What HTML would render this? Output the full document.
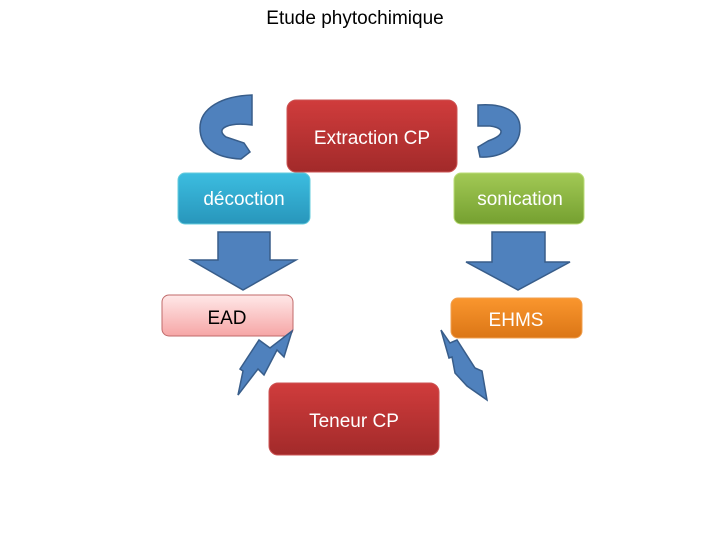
<!DOCTYPE html>
<html><head><meta charset="utf-8"><style>
body{margin:0;background:#fff;width:720px;height:540px;overflow:hidden}
svg text{font-family:"Liberation Sans",sans-serif}
</style></head><body>
<svg width="720" height="540" viewBox="0 0 720 540" xmlns="http://www.w3.org/2000/svg">
<defs>
<linearGradient id="red" x1="0" y1="0" x2="0" y2="1"><stop offset="0" stop-color="#d03c3c"/><stop offset="1" stop-color="#a22a2a"/></linearGradient>
<linearGradient id="cyan" x1="0" y1="0" x2="0" y2="1"><stop offset="0" stop-color="#3cbde0"/><stop offset="1" stop-color="#2896bb"/></linearGradient>
<linearGradient id="green" x1="0" y1="0" x2="0" y2="1"><stop offset="0" stop-color="#a2c955"/><stop offset="1" stop-color="#75a030"/></linearGradient>
<linearGradient id="pink" x1="0" y1="0" x2="0" y2="1"><stop offset="0" stop-color="#ffe8e8"/><stop offset="1" stop-color="#f6a6a6"/></linearGradient>
<linearGradient id="orange" x1="0" y1="0" x2="0" y2="1"><stop offset="0" stop-color="#fa962e"/><stop offset="1" stop-color="#db7616"/></linearGradient>
</defs>
<text x="355" y="24" font-size="19" text-anchor="middle" fill="#000">Etude phytochimique</text>

<!-- curved arrows -->
<path d="M252,95 L252,125 C230,122 214,128 226,137 L244,143 L250,152 L241,159 C215,158 200,147 200,128 C200,108 222,96 252,95 Z" fill="#4f81bd" stroke="#385d8a" stroke-width="1.5"/>
<path d="M478,105 C505,103 520,112 520,128 C520,148 500,158 480,157 L478,147 L488,141 C505,135 505,128 490,126 L478,126 Z" fill="#4f81bd" stroke="#385d8a" stroke-width="1.5"/>

<!-- boxes -->
<rect x="287" y="100" width="170" height="72" rx="9" fill="url(#red)" stroke="#c55" stroke-width="1"/>
<text x="372" y="144" font-size="19" text-anchor="middle" fill="#fff">Extraction CP</text>
<rect x="178" y="173" width="132" height="51" rx="7" fill="url(#cyan)" stroke="#6cd" stroke-width="1"/>
<text x="244" y="205" font-size="19" text-anchor="middle" fill="#fff">décoction</text>
<rect x="454" y="173" width="130" height="51" rx="7" fill="url(#green)" stroke="#bd7" stroke-width="1"/>
<text x="520" y="205" font-size="19" text-anchor="middle" fill="#fff">sonication</text>

<!-- down arrows -->
<polygon points="218,232 270,232 270,260 296,260 243,290 191,260 218,260" fill="#4f81bd" stroke="#385d8a" stroke-width="1.5"/>
<polygon points="492,232 545,232 545,262 570,262 518,290 466,262 492,262" fill="#4f81bd" stroke="#385d8a" stroke-width="1.5"/>

<rect x="162" y="295" width="131" height="41" rx="7" fill="url(#pink)" stroke="#c06a6a" stroke-width="1"/>
<text x="227" y="324" font-size="19" text-anchor="middle" fill="#000">EAD</text>
<rect x="451" y="298" width="131" height="40" rx="7" fill="url(#orange)" stroke="#f0a050" stroke-width="1"/>
<text x="516" y="326" font-size="19" text-anchor="middle" fill="#fff">EHMS</text>

<!-- lightning arrows -->
<polygon points="292,331 284,357 277,350 264,375 258,369 238,395 243,371 240,369 259,340 270,348" fill="#4f81bd" stroke="#385d8a" stroke-width="1.5"/>
<polygon points="441,330 450,343 457,340 475,368 482,371 487,400 467,386 455,373 452,357 449,358" fill="#4f81bd" stroke="#385d8a" stroke-width="1.5"/>

<rect x="269" y="383" width="170" height="72" rx="9" fill="url(#red)" stroke="#c55" stroke-width="1"/>
<text x="354" y="427" font-size="19" text-anchor="middle" fill="#fff">Teneur CP</text>
</svg>
</body></html>
